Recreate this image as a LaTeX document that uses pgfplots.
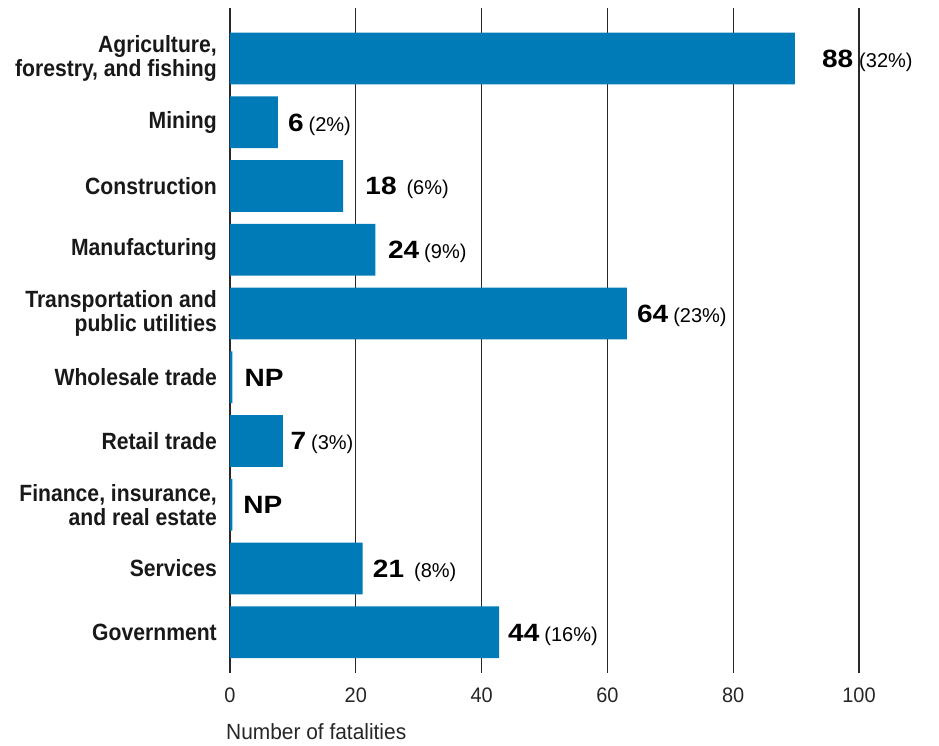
\documentclass[border=0pt]{standalone}
\usepackage{fontspec}
\setmainfont{Liberation Sans}
\newfontfamily\catfont[FakeStretch=0.9]{Liberation Sans}
\newfontfamily\labfont[FakeStretch=0.95]{Liberation Sans}
\newfontfamily\numfont[FakeStretch=1.12]{Liberation Sans}
\usepackage{pgfplots}
\pgfplotsset{compat=1.18}
\definecolor{barblue}{RGB}{0,123,183}
\definecolor{gridc}{RGB}{40,40,40}
\newcommand{\vl}[3]{{\fontsize{25}{25}\selectfont\numfont\bfseries #1}\hspace{#3}{\fontsize{20}{20}\selectfont #2}}
\begin{document}
\begin{tikzpicture}
\useasboundingbox (-230pt,-72.3pt) rectangle (709pt,672.7pt);
\begin{axis}[
  at={(0pt,0pt)}, anchor=south west, clip=false,
  scale only axis, width=629pt, height=664.7pt,
  xmin=0, xmax=100, ymin=-0.792, ymax=9.635, y dir=reverse,
  xtick={0,20,40,60,80,100}, ytick={0,1,2,3,4,5,6,7,8,9},
  yticklabels={{Agriculture,\\forestry, and fishing},{Mining},{Construction},{Manufacturing},{Transportation and\\public utilities},{Wholesale trade},{Retail trade},{Finance, insurance,\\and real estate},{Services},{Government}},
  xmajorgrids, grid style={gridc, line width=1.2pt},
  axis line style={draw=none},
  major tick length=0pt,
  /pgf/number format/assume math mode=true,
  xticklabel style={font=\fontsize{21}{21}\selectfont\labfont, anchor=north, inner sep=0pt, yshift=-15pt, text=black!85},
  yticklabel style={font=\fontsize{23.5}{24}\selectfont\catfont\bfseries, anchor=east, inner sep=0pt, xshift=-13pt, align=right, text=black!90},
  xlabel={Number of fatalities},
  xlabel style={at={(axis description cs:0,0)}, anchor=north west, inner sep=0pt, yshift=-51pt, xshift=-4pt, font=\fontsize{22}{22}\selectfont\labfont, text=black!85},
]
\addplot[xbar, bar width=0.81, fill=barblue, draw=none] coordinates {
  (89.8,0) (7.6,1) (18.0,2) (23.1,3) (63.1,4) (0.37,5) (8.4,6) (0.37,7) (21.1,8) (42.8,9)
};
\node[anchor=base west, inner sep=0pt, yshift=-9pt] at (axis cs:94.1,0) {\vl{88}{(32\%)}{6pt}};
\node[anchor=base west, inner sep=0pt, yshift=-9pt] at (axis cs:9.2,1) {\vl{6}{(2\%)}{5pt}};
\node[anchor=base west, inner sep=0pt, yshift=-9pt] at (axis cs:21.5,2) {\vl{18}{(6\%)}{10pt}};
\node[anchor=base west, inner sep=0pt, yshift=-9pt] at (axis cs:25.1,3) {\vl{24}{(9\%)}{5pt}};
\node[anchor=base west, inner sep=0pt, yshift=-9pt] at (axis cs:64.7,4) {\vl{64}{(23\%)}{5pt}};
\node[anchor=base west, inner sep=0pt, yshift=-9pt] at (axis cs:2.3,5) {{\fontsize{25}{25}\selectfont\numfont\bfseries NP}};
\node[anchor=base west, inner sep=0pt, yshift=-9pt] at (axis cs:9.6,6) {\vl{7}{(3\%)}{5pt}};
\node[anchor=base west, inner sep=0pt, yshift=-9pt] at (axis cs:2.1,7) {{\fontsize{25}{25}\selectfont\numfont\bfseries NP}};
\node[anchor=base west, inner sep=0pt, yshift=-9pt] at (axis cs:22.7,8) {\vl{21}{(8\%)}{10pt}};
\node[anchor=base west, inner sep=0pt, yshift=-9pt] at (axis cs:44.2,9) {\vl{44}{(16\%)}{5pt}};
\end{axis}
\end{tikzpicture}
\end{document}
